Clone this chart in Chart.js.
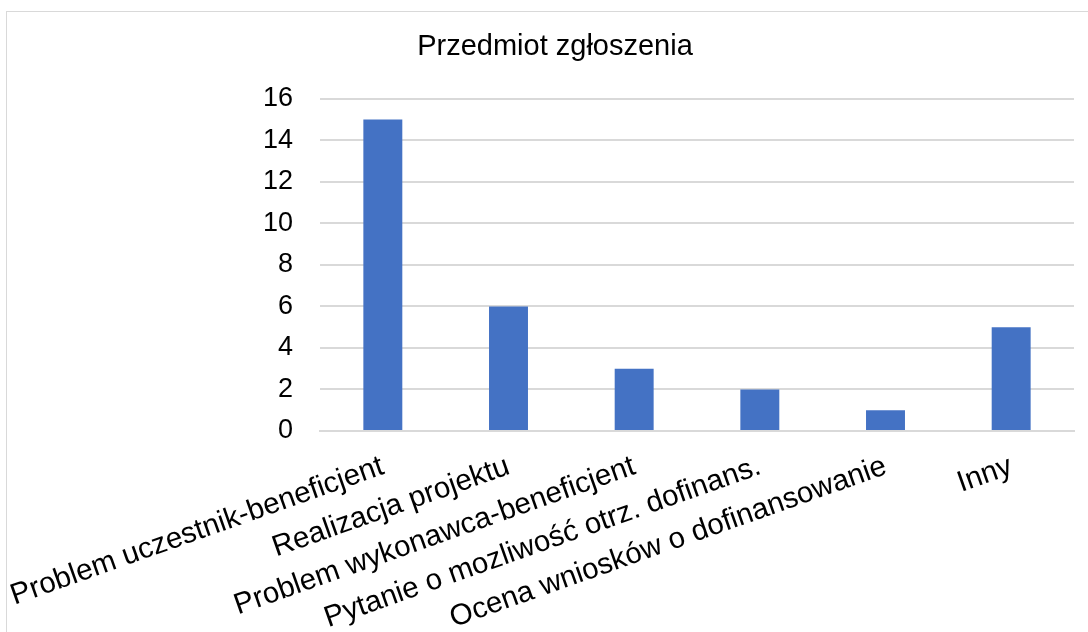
<!DOCTYPE html>
<html>
<head>
<meta charset="utf-8">
<script src="https://cdn.jsdelivr.net/npm/chart.js@4"></script>
<style>
  body { margin: 0; background: #fff; }
  #frame { position: absolute; left: 6px; top: 11px; width: 1100px; height: 640px; border: 1.5px solid #d9d9d9; }
  #wrap { position: absolute; left: 0; top: 0; width: 1088px; height: 632px; }
</style>
</head>
<body>
<div id="frame"></div>
<div id="wrap"><canvas id="chart"></canvas></div>
<script>
const categories = [
  'Problem uczestnik-beneficjent',
  'Realizacja projektu',
  'Problem wykonawca-beneficjent',
  'Pytanie o mozliwość otrz. dofinans.',
  'Ocena wniosków o dofinansowanie',
  'Inny'
];
const counts = [15, 6, 3, 2, 1, 5];
const yMin = 0;
const yMax = 16;
const yStep = 2;

const font = 'Liberation Sans, Arial, sans-serif';

new Chart(document.getElementById('chart'), {
  type: 'bar',
  data: {
    labels: categories,
    datasets: [{
      data: counts,
      backgroundColor: '#4472c4',
      categoryPercentage: 1,
      barPercentage: 0.31
    }]
  },
  options: {
    responsive: true,
    maintainAspectRatio: false,
    animation: false,
    layout: { padding: { left: 36, right: 14, top: 0, bottom: 0 } },
    plugins: {
      legend: { display: false },
      tooltip: { enabled: false },
      title: {
        display: true,
        text: 'Przedmiot zgłoszenia',
        color: '#000',
        font: { family: font, size: 29, weight: 'normal' },
        padding: { top: 30, bottom: 34 }
      }
    },
    scales: {
      x: {
        grid: { display: false },
        border: { color: '#d9d9d9', width: 2 },
        ticks: {
          color: '#000',
          font: { family: font, size: 29.5 },
          minRotation: 19.5,
          maxRotation: 19.5,
          autoSkip: false,
          padding: 10
        },
        afterFit: s => { s.height = 201; s.paddingLeft = 0; s.paddingRight = 0; }
      },
      y: {
        min: yMin,
        max: yMax,
        ticks: {
          stepSize: yStep,
          color: '#000',
          font: { family: font, size: 27 },
          padding: 27
        },
        grid: { color: '#d9d9d9', lineWidth: 2, drawTicks: false },
        border: { display: false },
        afterFit: s => { s.width = 284; }
      }
    }
  }
});
</script>
</body>
</html>
